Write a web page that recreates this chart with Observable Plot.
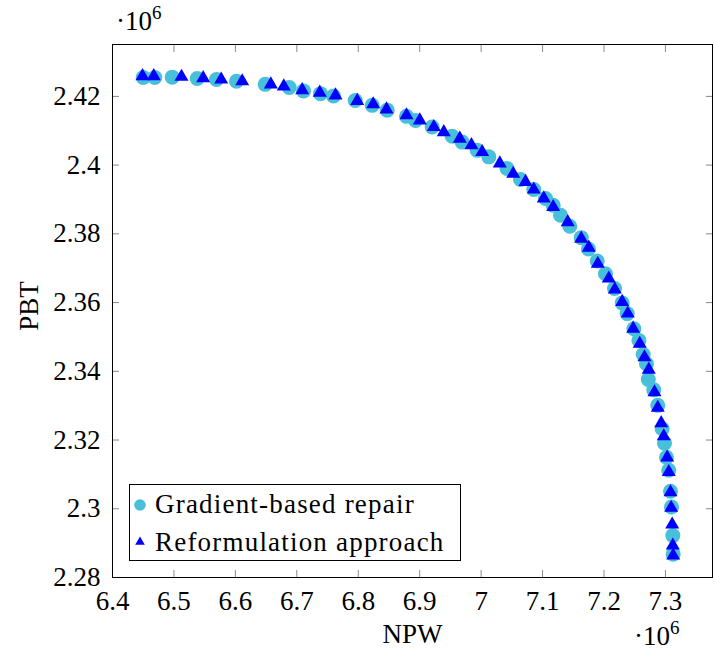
<!DOCTYPE html>
<html><head><meta charset="utf-8">
<script src="https://cdn.jsdelivr.net/npm/d3@7"></script>
<script src="https://cdn.jsdelivr.net/npm/@observablehq/plot@0.6"></script>
<style>
body{margin:0;background:#fff;}
#wrap{position:relative;width:714px;height:651px;font-family:"Liberation Serif",serif;}
#wrap svg{position:absolute;left:0;top:0;}
#wrap svg text{font-family:"Liberation Serif",serif;}
</style></head><body><div id="wrap"></div>
<script>
const seriesNames = ["Gradient-based repair", "Reformulation approach"];
const seriesColors = ["#48c0d9", "#0000ff"];

// values in units of 10^6
const npwGradient = [6.4500,6.4688,6.4972,6.5379,6.5693,6.6018,6.6485,6.6876,6.7109,6.7385,6.7597,6.7950,6.8227,6.8471,6.8785,6.8932,6.9203,6.9529,6.9692,6.9936,7.0125,7.0421,7.0641,7.0857,7.1048,7.1173,7.1292,7.1443,7.1629,7.1747,7.1889,7.2024,7.2171,7.2296,7.2377,7.2486,7.2568,7.2638,7.2691,7.2721,7.2810,7.2875,7.2947,7.2984,7.3017,7.3054,7.3082,7.3098,7.3120,7.3126];
const pbtGradient = [2.4255,2.4255,2.4256,2.4252,2.4249,2.4244,2.4235,2.4226,2.4216,2.4208,2.4201,2.4188,2.4174,2.4160,2.4142,2.4130,2.4111,2.4084,2.4067,2.4043,2.4024,2.3990,2.3958,2.3929,2.3903,2.3883,2.3854,2.3822,2.3789,2.3756,2.3721,2.3684,2.3641,2.3599,2.3568,2.3524,2.3490,2.3449,2.3422,2.3376,2.3346,2.3301,2.3233,2.3191,2.3150,2.3112,2.3051,2.3005,2.2922,2.2868];
const npwReform = [6.4488,6.4672,6.5123,6.5476,6.5769,6.6111,6.6577,6.6788,6.7088,6.7374,6.7630,6.7983,6.8243,6.8460,6.8785,6.9002,6.9230,6.9392,6.9653,6.9843,7.0017,7.0304,7.0522,7.0722,7.0857,7.1020,7.1173,7.1410,7.1629,7.1752,7.1899,7.2078,7.2176,7.2296,7.2387,7.2475,7.2582,7.2659,7.2729,7.2822,7.2875,7.2931,7.2973,7.3028,7.3054,7.3082,7.3093,7.3110,7.3120,7.3126];
const pbtReform = [2.4259,2.4259,2.4257,2.4253,2.4249,2.4244,2.4235,2.4229,2.4218,2.4211,2.4203,2.4187,2.4177,2.4162,2.4145,2.4130,2.4111,2.4096,2.4077,2.4058,2.4038,2.4005,2.3975,2.3951,2.3929,2.3903,2.3878,2.3834,2.3786,2.3760,2.3713,2.3670,2.3638,2.3602,2.3568,2.3524,2.3480,2.3441,2.3405,2.3339,2.3294,2.3249,2.3211,2.3149,2.3107,2.3048,2.3003,2.2954,2.2893,2.2864];

const xTicks = [6.4,6.5,6.6,6.7,6.8,6.9,7.0,7.1,7.2,7.3];
const yTicks = [2.28,2.30,2.32,2.34,2.36,2.38,2.40,2.42];
const xLabel = "NPW", yLabel = "PBT", multiplier = "·10", multExp = "6";

const gradient = npwGradient.map((x, i) => ({x, y: pbtGradient[i]}));
const reform = npwReform.map((x, i) => ({x, y: pbtReform[i]}));
const fmt = d => String(+d.toFixed(2));
const tickStroke = "#888";
const FONT = '"Liberation Serif", serif';

const chart = Plot.plot({
  width: 714, height: 651,
  marginLeft: 112, marginRight: 2, marginTop: 44, marginBottom: 74,
  style: {fontFamily: FONT, fontSize: "27px", background: "white", color: "black"},
  x: {domain: [6.4, 7.3766]},
  y: {domain: [2.28, 2.4351]},
  marks: [
    Plot.axisX(xTicks, {anchor: "bottom", tickSize: -7, tickPadding: 20, tickFormat: fmt, label: null, stroke: tickStroke, fontSize: 27, fontFamily: FONT}),
    Plot.axisX(xTicks, {anchor: "top", tickSize: -7, tickFormat: () => "", label: null, stroke: tickStroke}),
    Plot.axisY(yTicks, {anchor: "left", tickSize: -7, tickPadding: 19, tickFormat: fmt, label: null, stroke: tickStroke, fontSize: 27, fontFamily: FONT}),
    Plot.axisY(yTicks, {anchor: "right", tickSize: -7, tickFormat: () => "", label: null, stroke: tickStroke}),
    Plot.frame({stroke: "black", strokeWidth: 1}),
    Plot.dot(gradient, {x: "x", y: "y", r: 7.5, fill: seriesColors[0], stroke: "none"}),
    Plot.dot(reform, {x: "x", y: "y", r: 5.2, symbol: "triangle", fill: seriesColors[1], stroke: "none"}),
    Plot.text([xLabel], {frameAnchor: "bottom", dy: 65, lineAnchor: "bottom", fontSize: 27, fontFamily: FONT, text: d => d})
  ]
});
const wrap = document.getElementById("wrap");
wrap.appendChild(chart);

// overlay: y label, multipliers and legend
const ov = d3.select(wrap).append("svg").attr("width", 714).attr("height", 651)
  .style("pointer-events", "none").style("font-family", FONT);
ov.append("text").attr("transform", "translate(38,306) rotate(-90)")
  .attr("text-anchor", "middle").attr("font-size", 27).text(yLabel);
function mult(x, y) {
  const t = ov.append("text").attr("x", x).attr("y", y).attr("font-size", 27);
  t.append("tspan").text(multiplier);
  t.append("tspan").attr("dy", -11).attr("font-size", 19).text(multExp);
}
mult(116, 30);
mult(634, 645);

const lg = ov.append("g");
lg.append("rect").attr("x", 129.5).attr("y", 484.5).attr("width", 331).attr("height", 76)
  .attr("fill", "white").attr("stroke", "black").attr("stroke-width", 1);
lg.append("circle").attr("cx", 140).attr("cy", 505).attr("r", 5.8).attr("fill", seriesColors[0]);
lg.append("path").attr("transform", "translate(140,542)")
  .attr("d", d3.symbol(d3.symbolTriangle, 40)()).attr("fill", seriesColors[1]);
lg.append("text").attr("x", 155).attr("y", 513).attr("font-size", 27).attr("letter-spacing", 1.2).text(seriesNames[0]);
lg.append("text").attr("x", 155).attr("y", 550.5).attr("font-size", 27).attr("letter-spacing", 1.2).text(seriesNames[1]);
</script></body></html>
